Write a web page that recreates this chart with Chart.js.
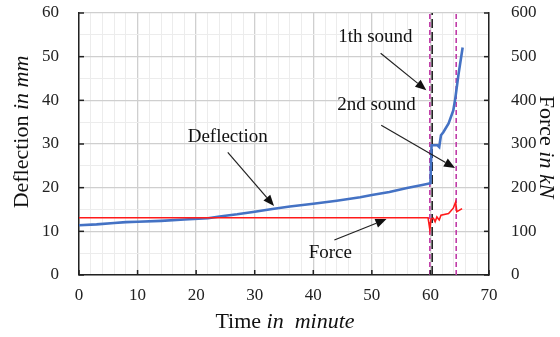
<!DOCTYPE html>
<html>
<head>
<meta charset="utf-8">
<script src="https://cdn.jsdelivr.net/npm/chart.js@4.4.0/dist/chart.umd.min.js"></script>
<style>
  body { margin: 0; background: #fff; }
  #wrap { width: 560px; height: 337px; }
</style>
</head>
<body>
<div id="wrap"><canvas id="chart"></canvas></div>
<script>
// Deflection (mm) vs time (minute)
const defTime = [0, 3, 6, 8, 10, 14, 18, 22, 24, 27, 30, 33, 36, 40, 44, 48, 50, 53, 56, 58.6, 60.0,
                 60.2, 61.2, 61.5, 61.8, 62.2, 63.1, 63.9, 64.2, 64.8, 65.5];
const defValue = [11.4, 11.6, 11.9, 12.1, 12.2, 12.4, 12.7, 13.0, 13.4, 13.9, 14.5, 15.1, 15.7, 16.3, 17.0, 17.8, 18.3, 19.0, 19.9, 20.6, 21.0,
                  29.7, 29.7, 29.3, 32.0, 32.7, 34.7, 37.7, 40.0, 46.0, 52.1];

// Force (kN) vs time (minute)
const forceTime = [0, 59.6, 59.9, 60.1, 60.5, 60.8, 61.1, 61.5, 61.8, 63.1, 63.9, 64.3, 64.5, 64.9, 65.4];
const forceValue = [131, 131, 104, 128, 130, 122, 133, 126, 137, 141, 153, 167, 145, 148, 152];

// vertical marker lines (minute)
const soundTimes = [59.9, 64.4];
const breakTime = [60.3];

const xTicks = [0, 10, 20, 30, 40, 50, 60, 70];
const yLeftTicks = [0, 10, 20, 30, 40, 50, 60];
const yRightTicks = [0, 100, 200, 300, 400, 500, 600];

// annotations: text at (minute, mm), arrow from -> to in (minute, mm)
const notes = [
  { text: 'Deflection', at: [25.4, 31.6], from: [25.4, 28.1], to: [33.3, 15.8] },
  { text: 'Force', at: [42.9, 5.0], from: [43.6, 8.0], to: [52.5, 12.8] },
  { text: '1th sound', at: [50.6, 54.4], from: [51.5, 50.8], to: [59.3, 42.3] },
  { text: '2nd sound', at: [50.8, 38.9], from: [51.6, 34.3], to: [64.2, 24.5] }
];

const serif = '"Liberation Serif", "Times New Roman", serif';
const toPts = (xs, ys) => xs.map((x, i) => ({ x: x, y: ys[i] }));
const vline = (t, top) => [{ x: t, y: 0 }, { x: t, y: top }];

function drawMixed(ctx, parts, x, y, rot) {
  ctx.save();
  ctx.translate(x, y);
  ctx.rotate(rot);
  let total = 0;
  parts.forEach(p => { ctx.font = p.font; total += ctx.measureText(p.text).width; });
  let cx = -total / 2;
  ctx.textBaseline = 'middle';
  ctx.textAlign = 'left';
  ctx.fillStyle = '#111';
  parts.forEach(p => {
    ctx.font = p.font;
    ctx.fillText(p.text, cx, 0);
    cx += ctx.measureText(p.text).width;
  });
  ctx.restore();
}

function arrow(ctx, x1, y1, x2, y2) {
  const ang = Math.atan2(y2 - y1, x2 - x1);
  const len = 11, half = 4.5;
  const bx = x2 - len * Math.cos(ang), by = y2 - len * Math.sin(ang);
  ctx.beginPath();
  ctx.moveTo(x1, y1);
  ctx.lineTo(bx, by);
  ctx.stroke();
  ctx.beginPath();
  ctx.moveTo(x2, y2);
  ctx.lineTo(bx + half * Math.sin(ang), by - half * Math.cos(ang));
  ctx.lineTo(bx - half * Math.sin(ang), by + half * Math.cos(ang));
  ctx.closePath();
  ctx.fill();
}

const extras = {
  id: 'extras',
  afterDraw(chart) {
    const ctx = chart.ctx;
    const sx = chart.scales.x, sy = chart.scales.y, sy1 = chart.scales.y1;
    const area = chart.chartArea;

    // inward tick marks
    ctx.save();
    ctx.strokeStyle = '#222';
    ctx.lineWidth = 1.5;
    xTicks.forEach(v => {
      const px = sx.getPixelForValue(v);
      ctx.beginPath(); ctx.moveTo(px, area.bottom); ctx.lineTo(px, area.bottom - 5); ctx.stroke();
    });
    yLeftTicks.forEach(v => {
      const py = sy.getPixelForValue(v);
      ctx.beginPath(); ctx.moveTo(area.left, py); ctx.lineTo(area.left + 5, py); ctx.stroke();
    });
    yRightTicks.forEach(v => {
      const py = sy1.getPixelForValue(v);
      ctx.beginPath(); ctx.moveTo(area.right, py); ctx.lineTo(area.right - 5, py); ctx.stroke();
    });
    ctx.restore();

    // annotations
    ctx.save();
    ctx.fillStyle = '#111';
    ctx.strokeStyle = '#222';
    ctx.lineWidth = 1.2;
    ctx.font = '19px ' + serif;
    ctx.textAlign = 'center';
    ctx.textBaseline = 'middle';
    notes.forEach(n => {
      ctx.fillText(n.text, sx.getPixelForValue(n.at[0]), sy.getPixelForValue(n.at[1]));
      arrow(ctx,
        sx.getPixelForValue(n.from[0]), sy.getPixelForValue(n.from[1]),
        sx.getPixelForValue(n.to[0]), sy.getPixelForValue(n.to[1]));
    });
    ctx.restore();

    // axis titles
    const reg = '22px ' + serif, ital = 'italic 22px ' + serif;
    drawMixed(ctx, [{ text: 'Time ', font: reg }, { text: 'in  minute', font: ital }],
      (area.left + area.right) / 2 + 1, 322, 0);
    drawMixed(ctx, [{ text: 'Deflection ', font: reg }, { text: 'in mm', font: ital }],
      22, (area.top + area.bottom) / 2 - 12, -Math.PI / 2);
    drawMixed(ctx, [{ text: 'Force ', font: reg }, { text: 'in kN', font: ital }],
      546, (area.top + area.bottom) / 2 + 3, Math.PI / 2);
  }
};

const fitY = w => s => { s.width = w; s.paddingTop = 0; s.paddingBottom = 0; };

new Chart(document.getElementById('chart'), {
  type: 'line',
  data: {
    datasets: [
      {
        label: 'Force',
        data: toPts(forceTime, forceValue),
        yAxisID: 'y1',
        borderColor: '#ff1a1a',
        borderWidth: 1.6,
        pointRadius: 0,
        tension: 0
      },
      {
        label: 'Deflection',
        data: toPts(defTime, defValue),
        yAxisID: 'y',
        borderColor: '#4472c4',
        borderWidth: 2.6,
        pointRadius: 0,
        tension: 0
      },
      {
        label: '1th sound',
        data: vline(soundTimes[0], 60),
        yAxisID: 'y',
        borderColor: '#c03ca8',
        borderWidth: 1.6,
        borderDash: [5, 3],
        pointRadius: 0
      },
      {
        label: 'break',
        data: vline(breakTime[0], 60),
        yAxisID: 'y',
        borderColor: '#222',
        borderWidth: 1.6,
        borderDash: [9, 4],
        pointRadius: 0
      },
      {
        label: '2nd sound',
        data: vline(soundTimes[1], 60),
        yAxisID: 'y',
        borderColor: '#c03ca8',
        borderWidth: 1.6,
        borderDash: [5, 3],
        pointRadius: 0
      }
    ]
  },
  options: {
    responsive: true,
    maintainAspectRatio: false,
    animation: false,
    layout: { padding: { top: 13 } },
    plugins: {
      legend: { display: false },
      tooltip: { enabled: false }
    },
    scales: {
      x: {
        type: 'linear',
        min: 0,
        max: 70,
        afterFit: s => { s.height = 62; s.paddingLeft = 0; s.paddingRight = 0; },
        border: { color: '#222', width: 1.5 },
        grid: {
          drawTicks: false,
          color: c => (c.tick.value % 10 === 0 ? '#cfcfcf' : '#ececec'),
          lineWidth: c => (c.tick.value % 10 === 0 ? 1.3 : 1)
        },
        ticks: {
          stepSize: 2,
          autoSkip: false,
          maxRotation: 0,
          minRotation: 0,
          padding: 10,
          color: '#222',
          font: { family: serif, size: 17 },
          callback: v => (v % 10 === 0 ? v : '')
        }
      },
      y: {
        position: 'left',
        min: 0,
        max: 60,
        afterFit: fitY(79),
        border: { color: '#222', width: 1.5 },
        grid: {
          drawTicks: false,
          color: c => (c.tick.value % 10 === 0 ? '#cfcfcf' : '#ececec'),
          lineWidth: c => (c.tick.value % 10 === 0 ? 1.3 : 1)
        },
        ticks: {
          stepSize: 5,
          autoSkip: false,
          padding: 20,
          color: '#222',
          font: { family: serif, size: 17 },
          callback: v => (v % 10 === 0 ? v : '')
        }
      },
      y1: {
        position: 'right',
        min: 0,
        max: 600,
        afterFit: fitY(71),
        border: { color: '#222', width: 1.5 },
        grid: { display: false, drawTicks: false },
        ticks: {
          stepSize: 100,
          padding: 22,
          color: '#222',
          font: { family: serif, size: 17 }
        }
      }
    }
  },
  plugins: [extras]
});
</script>
</body>
</html>
